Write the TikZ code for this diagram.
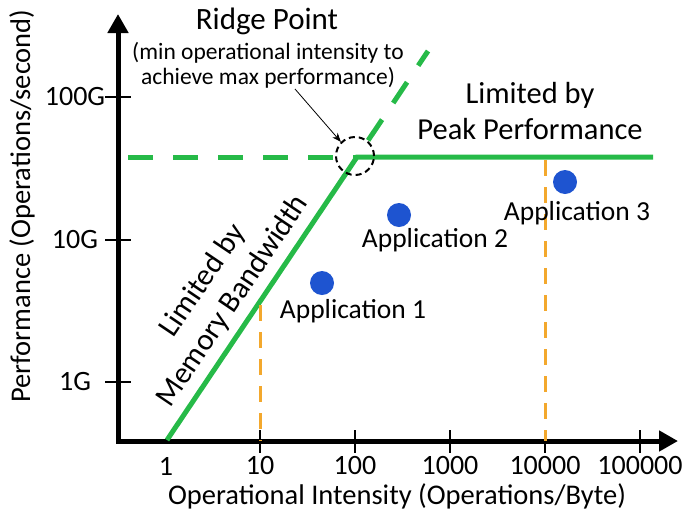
\documentclass[tikz,border=0pt]{standalone}
\usepackage{fontspec}
\setmainfont{Carlito}
\usetikzlibrary{arrows.meta}

\definecolor{roofgreen}{RGB}{38,186,72}
\definecolor{apporange}{RGB}{243,168,45}
\definecolor{appblue}{RGB}{30,84,208}

\tikzset{
  axisline/.style={line width=5pt, {Triangle[length=19pt,width=20pt]}-{Triangle[length=19pt,width=20pt]}},
  tickmark/.style={line width=2pt},
  roof/.style={roofgreen, line width=5pt},
  roofdash/.style={roof, dash pattern=on 25pt off 20pt},
  appline/.style={apporange, line width=3pt, dash pattern=on 16pt off 11pt},
  appdot/.style={circle, fill=appblue, inner sep=0pt, minimum size=24pt},
  ridgering/.style={circle, draw, line width=2pt, dash pattern=on 6pt off 4pt, inner sep=0pt, minimum size=38pt},
  ticklabel/.style={font=\fontsize{28}{32}\selectfont, inner sep=0pt},
  axistitle/.style={font=\fontsize{28.5}{32}\selectfont, inner sep=0pt},
  applabel/.style={font=\fontsize{27.5}{32}\selectfont, inner sep=0pt},
  biglabel/.style={font=\fontsize{30.5}{36}\selectfont, align=center, inner sep=0pt},
  notelabel/.style={font=\fontsize{23.5}{25}\selectfont, align=center, inner sep=0pt}
}

\begin{document}
\begin{tikzpicture}[x=1pt,y=-1pt]
        \useasboundingbox (0,0) rectangle (688,520);

        % axes
        \coordinate (origin) at (118,441);
        \coordinate (xend)   at (678,441);
        \coordinate (yend)   at (118,14);
        \draw [axisline] (yend) -- (origin) -- (xend);

        \foreach \px in {260,355,450,545,640}
          \draw [tickmark] (\px,430) -- (\px,453);
        \foreach \px/\lab in {166/1,260/10,355/100,450/1000,545/10000,640/100000}
          \node [ticklabel] (xtick\lab) at (\px,466) {\lab};

        \foreach \py/\lab in {97/100G,240/10G,382/1G}{
          \draw [tickmark] (105,\py) -- (131,\py);
          \node [ticklabel] (ytick\lab) at (75,\py) {\lab};
        }

        \node [axistitle] (xtitle) at (397,496) {Operational Intensity (Operations/Byte)};
        \node [axistitle, rotate=90] (ytitle) at (22,206) {Performance (Operations/second)};

        % roofline
        \coordinate (membase)   at (167,440);
        \coordinate (ridge)     at (357,157);
        \coordinate (memtop)    at (428,51);
        \coordinate (peakstart) at (128,157);
        \coordinate (peakend)   at (653,157);
        \draw [roof] (membase) -- (ridge) -- (peakend);                %
        \draw [roofdash, dash phase=25pt] (ridge) -- (memtop);         %
        \draw [roofdash] (peakstart) -- (ridge);                       %

        \node [ridgering] (ridgemark) at (355,156) {};
        \node [font=\fontsize{31}{34}\selectfont, inner sep=0pt] (ridgetitle) at (267,21) {Ridge Point};
        \node [notelabel] (ridgenote) at (268,65) {(min operational intensity to\\achieve max performance)};
        \coordinate (notetip) at (295,89);
        \draw [-{Stealth[length=9pt,width=7pt]}, line width=0.8pt] (notetip) -- (ridgemark.north west);

        \node [biglabel] (peaklabel) at (530,111) {Limited by\\Peak Performance};
        \node [biglabel, rotate=56] (memlabel) at (218,291) {Limited by\\Memory Bandwidth};

        % applications
        \coordinate (app1top)  at (260,305);
        \coordinate (app1foot) at (260,441);
        \coordinate (app3top)  at (545,160);
        \coordinate (app3foot) at (545,441);
        \draw [appline] (app1top) -- (app1foot);                       %
        \draw [appline] (app3top) -- (app3foot);                       %

        \node [appdot] (app1) at (322,283) {};
        \node [appdot] (app2) at (399,215) {};
        \node [appdot] (app3) at (565,182) {};
        \node [applabel] (app1label) at (353,311) {Application 1};
        \node [applabel] (app2label) at (435,240) {Application 2};
        \node [applabel] (app3label) at (577,213) {Application 3};
\end{tikzpicture}
\end{document}
